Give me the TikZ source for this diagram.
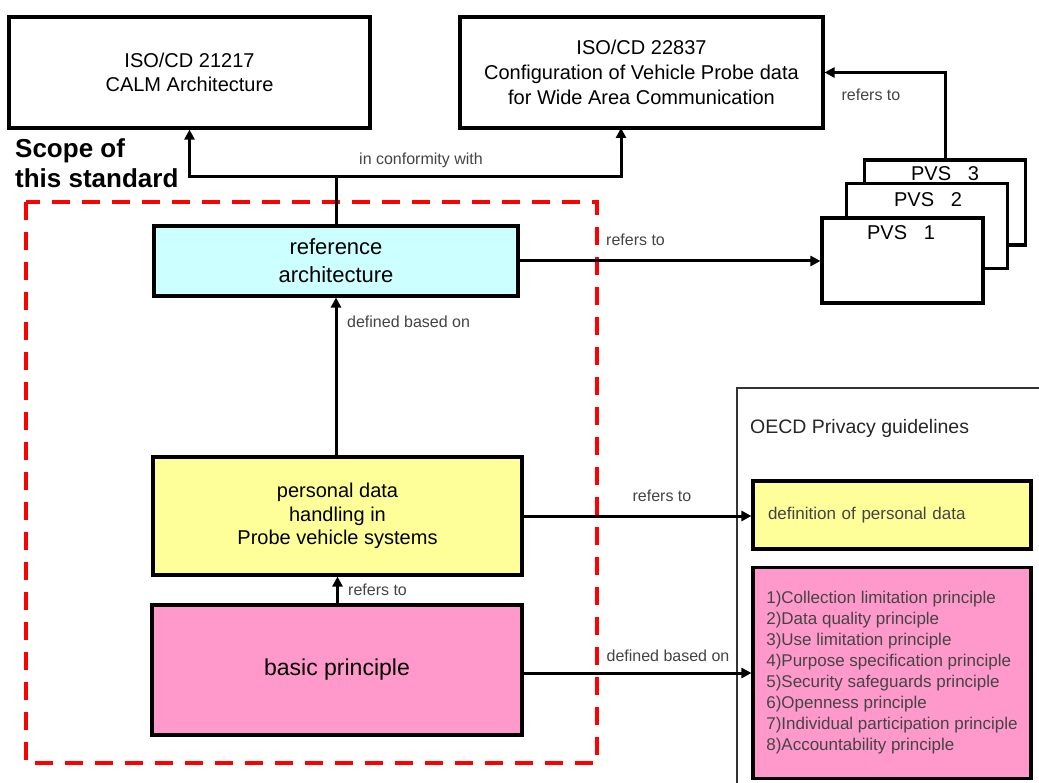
\documentclass[tikz,border=0pt]{standalone}
\usepackage{fontspec}
\setmainfont{Liberation Sans}
\usetikzlibrary{arrows.meta,calc}
\definecolor{cyanfill}{HTML}{CCFFFF}
\definecolor{yellowfill}{HTML}{FFFF99}
\definecolor{pinkfill}{HTML}{FF99CC}
\definecolor{lblgray}{HTML}{444444}
\newcommand{\fs}[2]{\fontsize{#1}{#2}\selectfont}
\begin{document}
\begin{tikzpicture}[x=1pt,y=-1pt,
  box/.style={draw, line width=3.1pt, align=center, inner sep=0pt, text=black},
  lbl/.style={text=lblgray, font=\fs{16}{19}, inner sep=0pt},
  arr/.style={line width=3pt, -{Triangle[length=10pt,width=10pt]}},
  pvsbox/.style={draw, line width=3.1pt, fill=white, inner sep=0pt, minimum width=161pt, minimum height=85pt},
  pvstext/.style={font=\fs{20}{24}, inner sep=0pt}
]
\useasboundingbox (0,0) rectangle (1039,783);
\fill[white] (0,0) rectangle (1039,783);

% top boxes
\node[box, minimum width=361pt, minimum height=111pt, font=\fs{20}{24}] (calm) at (189.5,72.5)
  {ISO/CD 21217\\CALM Architecture};
\node[box, minimum width=363pt, minimum height=111pt, font=\fs{20}{25}] (iso) at (641.5,72.5)
  {ISO/CD 22837\\Configuration of Vehicle Probe data\\for Wide Area Communication};

% scope text
\node[anchor=west, align=left, font=\bfseries\fs{26}{30}, inner sep=0pt] (scope) at (15,163)
  {Scope of\\this standard};

% red dashed scope box
\draw[red, line width=4pt, dash pattern=on 18pt off 12pt] (26,202) rectangle (597,763);

% inner boxes
\node[box, fill=cyanfill, minimum width=364pt, minimum height=70pt, font=\fs{22}{28}] (ref) at (336,261)
  {reference\\architecture};
\node[box, fill=yellowfill, minimum width=369pt, minimum height=118pt, font=\fs{20}{23.5}] (pers) at (337.5,516)
  {personal data\\handling in\\Probe vehicle systems};
\node[box, fill=pinkfill, minimum width=370pt, minimum height=130pt, font=\fs{23}{26}] (basic) at (337,670)
  {basic principle};

% PVS stack
\node[pvsbox] (pvs3) at (945,202.5) {};
\node[pvstext] (t3) at (945,174) {PVS\ \ \ 3};
\node[pvsbox] (pvs2) at (927,226) {};
\node[pvstext] (t2) at (928,200) {PVS\ \ \ 2};
\node[pvsbox] (pvs1) at (902.5,260.5) {};
\node[pvstext] (t1) at (901,233) {PVS\ \ \ 1};

% OECD frame
\draw[line width=1.5pt, black!80] (1045,388) -- (737,388) -- (737,790);
\node[anchor=west, inner sep=0pt, font=\fs{19.5}{22}, text=black!85] (oecd) at (750,428) {OECD Privacy guidelines};
\node[box, fill=yellowfill, minimum width=278pt, minimum height=68pt, text width=248pt, inner xsep=15pt, align=left,
  font=\fs{17}{20}, text=lblgray] (def) at (892,515) {definition of personal data};
\node[box, fill=pinkfill, minimum width=278pt, minimum height=211pt, align=left,
  font=\fs{17}{21}, text=lblgray] (prin) at (892,673)
  {1)Collection limitation principle\\2)Data quality principle\\3)Use limitation principle\\4)Purpose specification principle\\5)Security safeguards principle\\6)Openness principle\\7)Individual participation principle\\8)Accountability principle};

% connectors
\coordinate (j) at (336,177);
\coordinate (isoin) at (621,128);
\draw[line width=3pt] (ref.north) -- (j);
\draw[arr] (j) -| (calm.south);
\draw[arr] (j) -| (isoin);
\node[lbl] (lconf) at (421,160) {in conformity with};

\draw[arr] (pvs3.north) |- (iso.east);
\node[lbl] (lpvs) at (871,95) {refers to};

\draw[arr] (ref.east) -- (ref.east -| pvs1.west);
\node[lbl, anchor=west] (lref) at (606,240) {refers to};

\draw[arr] (pers.north -| ref.south) -- (ref.south);
\node[lbl, anchor=west] (ldef) at (347,322) {defined based on};

\draw[arr] (basic.north -| pers.south) -- (pers.south);
\node[lbl, anchor=west] (lbas) at (348,590) {refers to};

\draw[arr] (pers.east) -- (pers.east -| def.west);
\node[lbl] (lpers) at (662,496) {refers to};

\draw[arr] (basic.east |- prin.west) -- (prin.west);
\node[lbl] (lbp) at (668,656) {defined based on};
\end{tikzpicture}
\end{document}
